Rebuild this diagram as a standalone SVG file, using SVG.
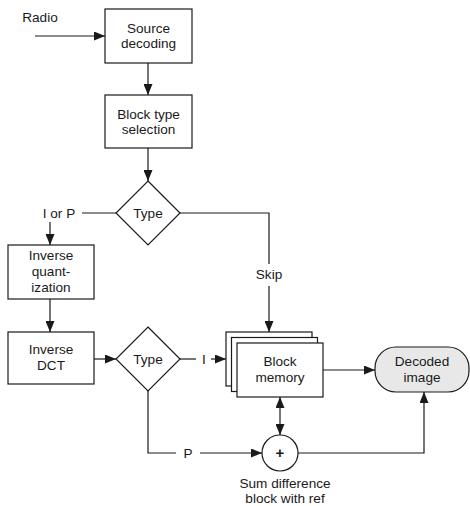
<svg xmlns="http://www.w3.org/2000/svg" width="470" height="506" viewBox="0 0 470 506">
  <style>
    .box { fill: #ffffff; stroke: #1a1a1a; stroke-width: 1.2; }
    .term { fill: #e8e8e8; stroke: #1a1a1a; stroke-width: 1.2; }
    .wire { fill: none; stroke: #1a1a1a; stroke-width: 1.2; }
    .lbl { font-family: "Liberation Sans", Arial, Helvetica, sans-serif; font-size: 13.6px; fill: #1a1a1a; text-anchor: middle; }
    .plus { font-family: "Liberation Sans", Arial, sans-serif; font-size: 15px; font-weight: bold; fill: #1a1a1a; text-anchor: middle; }
  </style>
  <defs>
    <marker id="arrow" markerUnits="userSpaceOnUse" markerWidth="11" markerHeight="9" refX="11" refY="4.5" orient="auto">
      <path d="M0,0 L11,4.5 L0,9 z" fill="#1a1a1a"/>
    </marker>
    <marker id="arrowStart" markerUnits="userSpaceOnUse" markerWidth="11" markerHeight="9" refX="0" refY="4.5" orient="auto">
      <path d="M11,0 L0,4.5 L11,9 z" fill="#1a1a1a"/>
    </marker>
  </defs>

  <!-- connectors -->
  <g id="connectors">
    <text class="lbl" x="40" y="22">Radio</text>
    <line class="wire" x1="35" y1="36" x2="105" y2="36" marker-end="url(#arrow)"/>
    <line class="wire" x1="148" y1="63" x2="148" y2="95" marker-end="url(#arrow)"/>
    <line class="wire" x1="148" y1="148" x2="148" y2="181" marker-end="url(#arrow)"/>

    <!-- I or P branch -->
    <line class="wire" x1="82" y1="213" x2="116" y2="213"/>
    <text class="lbl" x="59" y="218">I or P</text>
    <line class="wire" x1="50" y1="222" x2="50" y2="245" marker-end="url(#arrow)"/>
    <line class="wire" x1="50" y1="299" x2="50" y2="332" marker-end="url(#arrow)"/>
    <line class="wire" x1="94" y1="359" x2="116" y2="359" marker-end="url(#arrow)"/>

    <!-- Skip branch -->
    <polyline class="wire" points="180,213 269,213 269,264"/>
    <text class="lbl" x="269" y="279">Skip</text>
    <line class="wire" x1="269" y1="286" x2="269" y2="332" marker-end="url(#arrow)"/>

    <!-- I branch -->
    <line class="wire" x1="180" y1="359" x2="196" y2="359"/>
    <text class="lbl" x="204" y="364">I</text>
    <line class="wire" x1="211" y1="359" x2="226" y2="359" marker-end="url(#arrow)"/>

    <!-- P branch -->
    <polyline class="wire" points="148,391 148,453 176,453"/>
    <text class="lbl" x="188" y="458">P</text>
    <line class="wire" x1="200" y1="453" x2="262" y2="453" marker-end="url(#arrow)"/>

    <!-- memory to output -->
    <line class="wire" x1="323" y1="370" x2="375" y2="370" marker-end="url(#arrow)"/>
    <line class="wire" x1="280" y1="397" x2="280" y2="435" marker-start="url(#arrowStart)" marker-end="url(#arrow)"/>
    <polyline class="wire" points="298,453 424,453 424,392" marker-end="url(#arrow)"/>
  </g>

  <g id="source-decoding">
    <rect class="box" x="105" y="9" width="87" height="54"/>
    <text class="lbl" x="148.5" y="33">Source</text>
    <text class="lbl" x="148.5" y="48">decoding</text>
  </g>

  <g id="block-type-selection">
    <rect class="box" x="105" y="95" width="87" height="53"/>
    <text class="lbl" x="148.5" y="119">Block type</text>
    <text class="lbl" x="148.5" y="134">selection</text>
  </g>

  <g id="type-decision-1">
    <polygon class="box" points="148,181 180,213 148,245 116,213"/>
    <text class="lbl" x="148" y="218">Type</text>
  </g>

  <g id="inverse-quantization">
    <rect class="box" x="8" y="245" width="86" height="54"/>
    <text class="lbl" x="51" y="260">Inverse</text>
    <text class="lbl" x="51" y="276">quant-</text>
    <text class="lbl" x="51" y="292">ization</text>
  </g>

  <g id="inverse-dct">
    <rect class="box" x="8" y="332" width="86" height="52"/>
    <text class="lbl" x="51" y="354">Inverse</text>
    <text class="lbl" x="51" y="370">DCT</text>
  </g>

  <g id="type-decision-2">
    <polygon class="box" points="148,327 180,359 148,391 116,359"/>
    <text class="lbl" x="148" y="364">Type</text>
  </g>

  <g id="block-memory">
    <rect class="box" x="226" y="332" width="86" height="54"/>
    <rect class="box" x="231.5" y="337.5" width="86" height="54"/>
    <rect class="box" x="237" y="343" width="86" height="54"/>
    <text class="lbl" x="280" y="366">Block</text>
    <text class="lbl" x="280" y="382">memory</text>
  </g>

  <g id="decoded-image">
    <rect class="term" x="375" y="347" width="94" height="45" rx="21" ry="21"/>
    <text class="lbl" x="422" y="366">Decoded</text>
    <text class="lbl" x="422" y="382">image</text>
  </g>

  <g id="sum">
    <circle class="box" cx="280" cy="453" r="18"/>
    <text class="plus" x="280" y="458">+</text>
    <text class="lbl" x="285" y="488">Sum difference</text>
    <text class="lbl" x="285" y="503">block with ref</text>
  </g>
</svg>
